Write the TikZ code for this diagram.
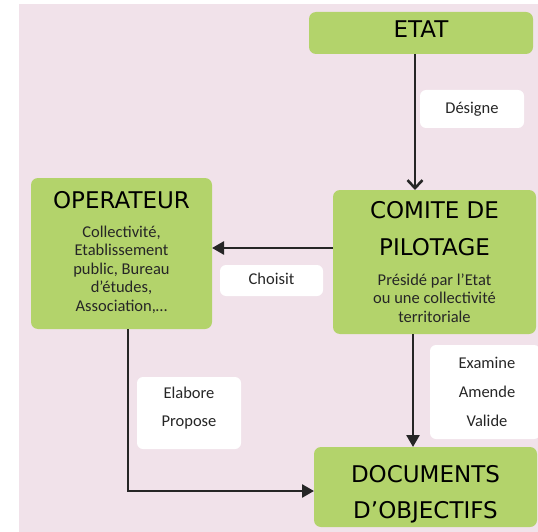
\documentclass[tikz,border=0pt]{standalone}
\usepackage{fontspec}
\setmainfont{Carlito}
\newfontfamily\titlefont{DejaVu Sans}
\usetikzlibrary{arrows.meta}
\definecolor{bgpink}{HTML}{F1E2EA}
\definecolor{boxgreen}{HTML}{B3D36B}
\begin{document}
\begin{tikzpicture}[
    x = 1pt, y = -1pt,
    outer sep = 0mm, inner sep = 0mm,
    box/.style = {rectangle, rounded corners = 7pt, fill = boxgreen},
    tag/.style = {rectangle, rounded corners = 6pt, fill = white},
    title/.style = {anchor = base, font = \titlefont\fontsize{23}{28}\selectfont, text = black},
    body/.style = {anchor = base, align = center, font = \fontsize{16.5}{18.5}\selectfont, text = black!85},
    link/.style = {line width = 2.6pt, draw = black!85, -{Triangle[length = 12pt, width = 13pt]}},
    barb/.style = {line width = 2.6pt, draw = black!85, -{Straight Barb[length = 8pt, width = 15pt]}},
  ]
  \useasboundingbox (0,0) rectangle (538,532);
  \fill[bgpink] (19,4) rectangle (538,532);

  % boxes
  \node[box, minimum width = 224, minimum height = 42] (etat) at (421,33) {};
  \node[box, minimum width = 203, minimum height = 144] (comite) at (434.5,262) {};
  \node[box, minimum width = 181, minimum height = 151] (oper) at (121.5,253.5) {};
  \node[box, minimum width = 223, minimum height = 80] (docs) at (425.5,487) {};

  \node[title] (etatT) at (421,38) {ETAT};
  \node[title] (comiteT) at (434.5,218) {COMITE DE};
  \node[title] (comiteU) at (434.5,255) {PILOTAGE};
  \node[body] (comiteB) at (434.5,322) {Présidé par l’Etat\\ou une collectivité\\territoriale};
  \node[title] (operT) at (121.5,208) {OPERATEUR};
  \node[body] (operB) at (121.5,311) {Collectivité,\\Etablissement\\public, Bureau\\d’études,\\Association,…};
  \node[title] (docsT) at (425.5,482) {DOCUMENTS};
  \node[title] (docsU) at (425.5,518) {D’OBJECTIFS};

  % labels
  \node[tag, minimum width = 104, minimum height = 38] (designe) at (472,109) {};
  \node[body] (designeT) at (472,114) {Désigne};
  \node[tag, minimum width = 103, minimum height = 31] (choisit) at (271.5,280.5) {};
  \node[body] (choisitT) at (271.5,284) {Choisit};
  \node[tag, minimum width = 104, minimum height = 72] (elabore) at (189,413) {};
  \node[body, font = \fontsize{16.5}{28}\selectfont] (elaboreT) at (189,426) {Elabore\\Propose};
  \node[tag, minimum width = 110, minimum height = 94] (examine) at (485,392) {};
  \node[body, font = \fontsize{16.5}{29}\selectfont] (examineT) at (487,426) {Examine\\Amende\\Valide};

  % connectors
  \coordinate (etatX) at (415,0);
  \coordinate (choisitY) at (0,248);
  \coordinate (operX) at (128,0);
  \coordinate (docsY) at (0,491);
  \coordinate (comiteX) at (413,0);
  \draw[barb] (etat.south -| etatX) to (comite.north -| etatX);
  \draw[link] (comite.west |- choisitY) to (oper.east |- choisitY);
  \draw[link] (oper.south -| operX) |- (docs.west |- docsY);
  \draw[link] (comite.south -| comiteX) to (docs.north -| comiteX);
\end{tikzpicture}
\end{document}
